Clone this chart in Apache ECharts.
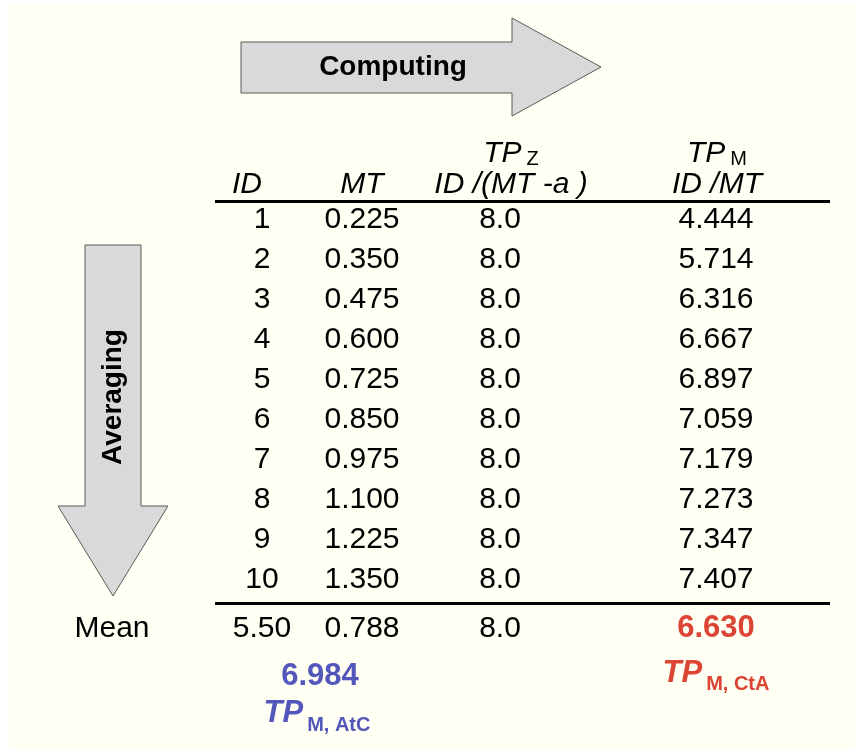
<!DOCTYPE html>
<html>
<head>
<meta charset="utf-8">
<title>Computing vs Averaging</title>
<script src="https://cdn.jsdelivr.net/npm/echarts@6/dist/echarts.min.js"></script>
<style>
  html, body { margin: 0; padding: 0; background: #fff; }
  #main { width: 855px; height: 749px; }
</style>
</head>
<body>
<div id="main"></div>
<script>
// table values
const ids = [1, 2, 3, 4, 5, 6, 7, 8, 9, 10];
const mtValues = [0.225, 0.350, 0.475, 0.600, 0.725, 0.850, 0.975, 1.100, 1.225, 1.350];
const tpzValues = [8.0, 8.0, 8.0, 8.0, 8.0, 8.0, 8.0, 8.0, 8.0, 8.0];
const tpmValues = [4.444, 5.714, 6.316, 6.667, 6.897, 7.059, 7.179, 7.273, 7.347, 7.407];
const meanValues = [5.50, 0.788, 8.0, 6.630];   // ID, MT, TPz, TPm
const tpmAtC = 6.984;                           // averaging then computing
const headerTop = ['', '', '{i|TP}{s|Z}', '{i|TP}{s|M}'];
const headerBottom = ['{i|ID}', '{i|MT}', '{i|ID /(MT -a )}', '{i|ID /MT}'];

// layout (pixels on x, table rows on y)
const colX = [262, 362, 500, 716];
const headX = [247, 362, 511, 717];
const meanX = 112;
const rowTop = -0.65, rowHead = 0.12, rowMean = 11.22, rowSum1 = 12.4, rowSum2 = 13.42;
const ruleY = [0.525, 10.575];
const ruleX = [215, 830];
const FONT = '"Liberation Sans", Arial, Helvetica, sans-serif';
const BLUE = '#5356bb';
const RED = '#dc4433';

const richHead = {
  i: { fontFamily: FONT, fontSize: 30, fontStyle: 'italic', color: '#000', verticalAlign: 'bottom' },
  s: { fontFamily: FONT, fontSize: 20, color: '#000', verticalAlign: 'bottom', padding: [0, 0, 0, 5] }
};
const richSum = function (c) {
  return {
    t: { fontFamily: FONT, fontSize: 31, fontStyle: 'italic', fontWeight: 'bold', color: c, verticalAlign: 'bottom', padding: [0, 0, 6, 0] },
    s: { fontFamily: FONT, fontSize: 20, fontWeight: 'bold', color: c, verticalAlign: 'bottom', padding: [0, 0, 0, 4] }
  };
};

const cells = [];
function addCell(x, y, text, extra) {
  cells.push({
    value: [x, y],
    label: Object.assign({
      formatter: function () { return text; },
      fontFamily: FONT, fontSize: 30, color: '#000', opacity: 1
    }, extra || {})
  });
}

// headers
for (let c = 0; c < 4; c++) {
  if (headerTop[c]) addCell(headX[c], rowTop, headerTop[c], { rich: richHead });
  addCell(headX[c], rowHead, headerBottom[c], { rich: richHead });
}
// body rows
for (let r = 0; r < ids.length; r++) {
  const y = r + 1;
  addCell(colX[0], y, String(ids[r]));
  addCell(colX[1], y, mtValues[r].toFixed(3));
  addCell(colX[2], y, tpzValues[r].toFixed(1));
  addCell(colX[3], y, tpmValues[r].toFixed(3));
}
// mean row
addCell(meanX, rowMean, 'Mean');
addCell(colX[0], rowMean, meanValues[0].toFixed(2));
addCell(colX[1], rowMean, meanValues[1].toFixed(3));
addCell(colX[2], rowMean, meanValues[2].toFixed(1));
addCell(colX[3], rowMean, meanValues[3].toFixed(3), { fontWeight: 'bold', color: RED, fontSize: 31 });
// result labels
addCell(320, rowSum1, tpmAtC.toFixed(3), { fontWeight: 'bold', color: BLUE, fontSize: 31 });
addCell(317, rowSum2, '{t|TP}{s|M, AtC}', { rich: richSum(BLUE) });
addCell(716, rowSum1, '{t|TP}{s|M, CtA}', { rich: richSum(RED) });

const chart = echarts.init(document.getElementById('main'));
chart.setOption({
  animation: false,
  backgroundColor: '#ffffff',
  graphic: [
    { type: 'rect', z: -10, shape: { x: 9, y: 6, width: 846, height: 743 }, style: { fill: '#fffff3' } },
    {
      type: 'polygon', z: 1,
      shape: { points: [[241, 42], [512, 42], [512, 18], [601, 67], [512, 116], [512, 93], [241, 93]] },
      style: { fill: '#d9d9d9', stroke: '#5a5a5a', lineWidth: 1 }
    },
    {
      type: 'text', z: 2, x: 393, y: 67,
      style: { text: 'Computing', font: 'bold 28px ' + FONT, fill: '#000', align: 'center', verticalAlign: 'middle' }
    },
    {
      type: 'polygon', z: 1,
      shape: { points: [[85, 245], [141, 245], [141, 506], [168, 506], [113, 596], [58, 506], [85, 506]] },
      style: { fill: '#d9d9d9', stroke: '#5a5a5a', lineWidth: 1 }
    },
    {
      type: 'text', z: 2, x: 113, y: 397, rotation: Math.PI / 2,
      style: { text: 'Averaging', font: 'bold 28px ' + FONT, fill: '#000', align: 'center', verticalAlign: 'middle' }
    }
  ],
  grid: { left: 0, right: 0, top: 100, bottom: 9 },
  xAxis: { type: 'value', min: 0, max: 855, show: false },
  yAxis: { type: 'value', min: -2, max: 14, inverse: true, show: false },
  series: [{
    type: 'scatter',
    silent: true,
    symbolSize: 0,
    clip: false,
    itemStyle: { opacity: 1 },
    label: { show: true, position: 'inside', opacity: 1 },
    data: cells,
    markLine: {
      silent: true,
      symbol: 'none',
      label: { show: false },
      lineStyle: { color: '#000', width: 3, type: 'solid', opacity: 1 },
      data: ruleY.map(function (y) {
        return [{ coord: [ruleX[0], y] }, { coord: [ruleX[1], y] }];
      })
    }
  }]
});
</script>
</body>
</html>
